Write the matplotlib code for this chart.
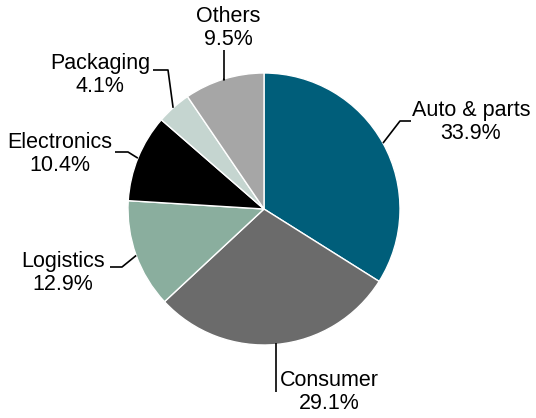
import matplotlib.pyplot as plt
import numpy as np

plt.rcParams['font.family'] = ['Liberation Sans', 'DejaVu Sans']

labels = ['Auto & parts', 'Consumer', 'Logistics', 'Electronics', 'Packaging', 'Others']
shares = [33.9, 29.1, 12.9, 10.4, 4.1, 9.5]
colors = ['#005e7a', '#6b6b6b', '#8aae9e', '#000000', '#c5d5d0', '#a6a6a6']

W, H = 536, 418
cx, cy, R = 264, 209, 136

# label layout in pixel coords: (elbow, line end, text pos, ha)
layout = [
    ((400, 121), (411, 121), (471, 122), 'center'),
    ((276, 355), (276, 392), (280, 392), 'left'),
    ((122, 267), (110, 267), (63, 273), 'center'),
    ((128, 152), (115, 152), (60, 154), 'center'),
    ((168, 70), (153, 70), (100, 75), 'center'),
    ((224, 80), (224, 50), (228, 28), 'center'),
]

fig = plt.figure(figsize=(W / 100, H / 100), dpi=100)
ax = fig.add_axes([0, 0, 1, 1])

ax.pie(shares, colors=colors, startangle=90, counterclock=False,
       center=(cx, H - cy), radius=R, frame=True,
       wedgeprops=dict(edgecolor='white', linewidth=1))
ax.set_xlim(0, W)
ax.set_ylim(0, H)
ax.set_aspect('equal')
ax.axis('off')

cum = np.cumsum([0] + shares[:-1])
for i, (lab, s) in enumerate(zip(labels, shares)):
    mid = np.deg2rad(90 - (cum[i] + s / 2) * 3.6)
    ax0 = cx + R * np.cos(mid)
    ay0 = cy - R * np.sin(mid)
    (ex, ey), (tx, ty), (px, py), ha = layout[i]
    if i == 1:
        ax0, ay0 = ex, cy + R * 0.99 * np.sin(np.arccos((ex - cx) / R))
    ax.plot([ax0, ex, tx], [H - ay0, H - ey, H - ty], color='black', lw=1.2,
            solid_capstyle='butt')
    ax.text(px, H - py, f'{lab}\n{s:.1f}%', ha=ha, va='center', fontsize=15.5,
            linespacing=1.08, multialignment='center')

fig.savefig('out.png', dpi=100)
